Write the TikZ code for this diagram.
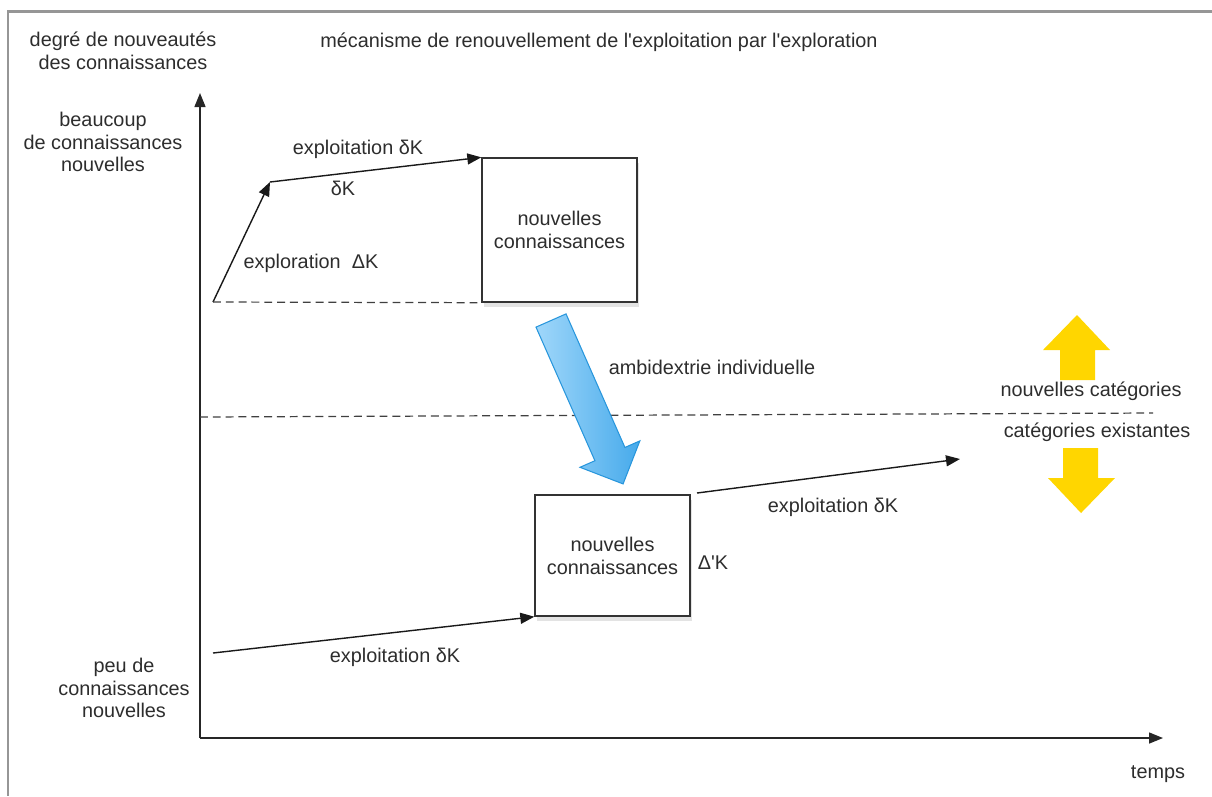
\documentclass[tikz,border=0pt]{standalone}
\usepackage{fontspec}
\setmainfont{Liberation Sans}
\usepackage{tikz}
\usetikzlibrary{arrows.meta,shadows}
\definecolor{frame_gray}{RGB}{150,150,150}
\definecolor{txt_gray}{RGB}{45,45,45}
\definecolor{ambi_blue}{RGB}{70,170,235}
\definecolor{ambi_light}{RGB}{160,215,250}
\definecolor{ambi_edge}{RGB}{40,150,220}
\definecolor{cat_yellow}{RGB}{255,214,0}

\begin{document}
\begin{tikzpicture}[x=0.02cm,y=0.02cm,>={Triangle[length=0.28cm,width=0.22cm]},line width=0.8pt]
    \fontsize{11.3}{13}\selectfont
    \tikzstyle{txt}=[text=txt_gray, inner sep=0pt]
    \tikzstyle{mtxt}=[txt, align=center]
    \tikzstyle{box}=[draw=black!80, fill=white, rectangle, minimum width=3.1cm, text=txt_gray, align=center, drop shadow={shadow xshift=1pt, shadow yshift=-3pt, opacity=0.22}]
    \tikzstyle{dashline}=[draw=black!75, dash pattern=on 4.5pt off 2.8pt, line width=0.7pt]
    \tikzstyle{catarrow}=[fill=cat_yellow, draw=none]

    \useasboundingbox (0,0) rectangle (1212,-796);
    \draw[frame_gray, line width=1.7pt] (1212,-11) -- (8,-11) -- (8,-796);

    % axes
    \coordinate (O) at (200,-738);
    \coordinate (Ytop) at (200,-93);
    \coordinate (Xend) at (1163,-738);
    \draw[->, black!85] (O) -- (Ytop);
    \draw[->, black!85] (O) -- (Xend);

    \node[mtxt] (Yname) at (123,-51)  {degré de nouveautés\\des connaissances};
    \node[txt] (Title) at (599,-42)   {mécanisme de renouvellement de l\textquotesingle exploitation par l\textquotesingle exploration};
    \node[mtxt] (High) at (103,-142)  {beaucoup\\de connaissances\\nouvelles};
    \node[mtxt] (Low) at (124,-688)   {peu de\\connaissances\\nouvelles};
    \node[txt] (Time) at (1158,-774)  {temps};

    % boxes
    \node[box, minimum height=2.88cm] (NC1) at (559.5,-230) {nouvelles\\connaissances};
    \node[box, minimum height=2.42cm] (NC2) at (612.5,-555.5) {nouvelles\\connaissances};

    \coordinate (S0) at (213,-302);
    \coordinate (S1) at (270,-182);
    \coordinate (L0) at (213,-653);
    \coordinate (R0) at (697,-493);
    \coordinate (R1) at (960,-459);
    \coordinate (M0) at (200,-417);
    \coordinate (M1) at (1153,-413);

    \path[black!90]
     (S0) edge[->] (S1)
     (S1) edge[->] (NC1.north west)
     (L0) edge[->] (NC2.south west)
     (R0) edge[->] (R1);
    \draw[dashline] (S0) -- (NC1.south west);
    \draw[dashline] (M0) -- (M1);

    \node[txt] (Expl1) at (358,-149) {exploitation δK};
    \node[txt] (dK) at (343,-188)    {δK};
    \node[txt] (Explo) at (311,-263) {exploration\ \ ΔK};
    \node[txt] (Expl2) at (395,-657) {exploitation δK};
    \node[txt] (Expl3) at (833,-507) {exploitation δK};
    \node[txt] (DpK) at (713,-563)   {Δ\textquotesingle K};
    \node[txt] (Ambi) at (712,-367)  {ambidextrie individuelle};
    \node[txt] (NewCat) at (1091,-391) {nouvelles catégories};
    \node[txt] (OldCat) at (1097,-432) {catégories existantes};

    % ambidextrie arrow
    \begin{scope}[shift={(551,-320.5)}, rotate=-66.2]
      \draw[ambi_edge, line width=0.6pt, left color=ambi_light, right color=ambi_blue]
        (0,16.4) -- (146,16.4) -- (146,32.7) -- (178.6,0) -- (146,-32.7) -- (146,-16.4) -- (0,-16.4) -- cycle;
    \end{scope}

    % categories arrows
    \fill[catarrow] (1060,-380) -- (1095,-380) -- (1095,-350) -- (1110,-350) -- (1077,-315) -- (1043,-350) -- (1060,-350) -- cycle;
    \fill[catarrow] (1063,-448) -- (1098,-448) -- (1098,-478) -- (1115,-478) -- (1081,-513) -- (1048,-478) -- (1063,-478) -- cycle;
\end{tikzpicture}
\end{document}
